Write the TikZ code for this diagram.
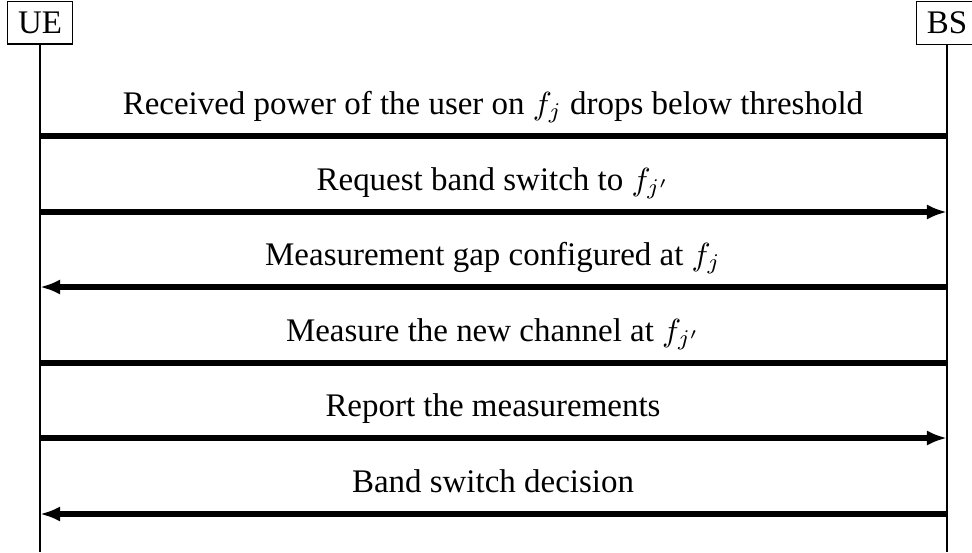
\documentclass[tikz,border=0pt]{standalone}
\usepackage{fontspec}
\setmainfont{Liberation Serif}
\usetikzlibrary{arrows.meta}
\begin{document}
\begin{tikzpicture}[x=0.3125pt,y=-0.3125pt,
  actor/.style={draw,line width=0.4pt,inner sep=3.2pt,font=\fontsize{10.3}{12}\selectfont},
  life/.style={line width=0.4pt},
  msg/.style={line width=1.6pt},
  tip/.style={-{Latex[length=6.3pt,width=4.8pt]}},
  lbl/.style={anchor=base,font=\fontsize{10.3}{12}\selectfont,inner sep=0pt}]
\useasboundingbox (0,0) rectangle (972,552);
\node[actor,anchor=north] (ue) at (40,1) {UE};
\node[actor,anchor=north] (bs) at (947,1) {BS};
\coordinate (ueend) at (40,552);
\coordinate (bsend) at (947,552);
\draw[life] (ue.south) -- (ueend);
\draw[life] (bs.south) -- (bsend);
% message rows
\foreach \n/\y in {1/136,2/212,3/287,4/363,5/438,6/514}{
  \coordinate (u\n) at (40,\y);
  \coordinate (b\n) at (947,\y);
}
\draw[msg] (u1) -- (b1);
\draw[msg,tip] (u2) -- (b2);
\draw[msg,tip] (b3) -- (u3);
\draw[msg] (u4) -- (b4);
\draw[msg,tip] (u5) -- (b5);
\draw[msg,tip] (b6) -- (u6);
\node[lbl] (t1) at (493,114) {Received power of the user on $f_j$ drops below threshold};
\node[lbl] (t2) at (493,190) {Request band switch to $f_{j'}$};
\node[lbl] (t3) at (493,265) {Measurement gap configured at $f_j$};
\node[lbl] (t4) at (493,341) {Measure the new channel at $f_{j'}$};
\node[lbl] (t5) at (493,416) {Report the measurements};
\node[lbl] (t6) at (493,492) {Band switch decision};
\end{tikzpicture}
\end{document}
